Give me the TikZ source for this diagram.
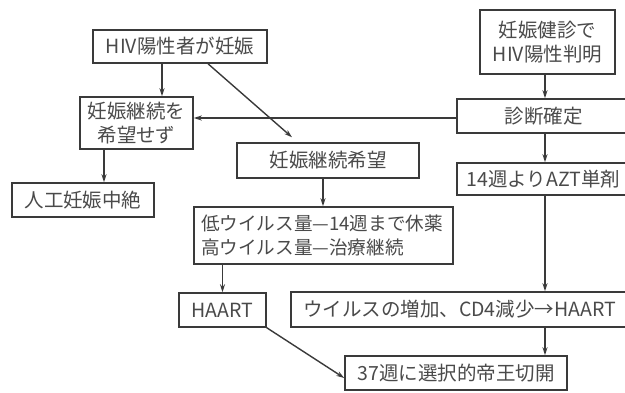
\documentclass[tikz,border=0pt]{standalone}
\usepackage{fontspec}
\newfontfamily\jp{Noto Sans CJK JP}
\usetikzlibrary{arrows.meta}
\definecolor{ink}{HTML}{3A3A3A}
\definecolor{txt}{HTML}{4A4A4A}
\tikzset{
  box/.style={draw=ink, line width=1.5pt, inner sep=0pt, text=txt,
    font=\jp\fontsize{19.5}{24}\selectfont},
  arr/.style={draw=ink, line width=1.4pt, -{Stealth[length=8pt,width=5pt]}},
  ln/.style={draw=ink, line width=1.4pt}
}
\begin{document}
\begin{tikzpicture}[x=1pt,y=-1pt]
\useasboundingbox (0,0) rectangle (625,392);
\clip (0,0) rectangle (625,392);
\fill[white] (0,0) rectangle (625,392);
\node[box, minimum width=174pt, minimum height=33pt] (A) at (180,46.5) {HIV陽性者が妊娠};
\node[box, minimum width=113pt, minimum height=52pt, align=center] (B) at (136.5,123) {妊娠継続を\\希望せず};
\node[box, minimum width=142pt, minimum height=34pt] (C) at (83,200) {人工妊娠中絶};
\node[box, minimum width=182pt, minimum height=35pt] (D) at (328,160.5) {妊娠継続希望};
\node[box, minimum width=135pt, minimum height=64pt, align=center] (E) at (547.5,42) {妊娠健診で\\HIV陽性判明};
\node[box, minimum width=173pt, minimum height=34pt] (F) at (543.5,116) {診断確定};
\node[box, minimum width=173pt, minimum height=32pt] (G) at (543.5,179) {14週よりAZT単剤};
\node[box, minimum width=259pt, minimum height=57pt, text width=245pt, align=left, font=\jp\fontsize{18.6}{24}\selectfont] (H) at (323.5,235.5) {\mbox{低ウイルス量—14週まで休薬}\\\mbox{高ウイルス量—治療継続}};
\node[box, minimum width=87pt, minimum height=34pt] (I) at (222.5,310) {HAART};
\node[box, minimum width=337pt, minimum height=35pt] (J) at (459.5,309.5) {ウイルスの増加、CD4減少→HAART};
\node[box, minimum width=222pt, minimum height=34pt] (K) at (456,373) {37週に選択的帝王切開};
\coordinate (vx) at (545,0);
\coordinate (ab) at (162,0);
\coordinate (bc) at (104,0);
\coordinate (dh) at (323,0);
\draw[arr] (A.south -| ab) -- (B.north -| ab);
\draw[arr] ([xshift=28pt]A.south) -- ([xshift=-36pt,yshift=5pt]D.north);
\draw[arr] ([yshift=-2pt]F.west) -- ([yshift=-2pt]F.west -| B.east);
\draw[arr] (B.south -| bc) -- (C.north -| bc);
\draw[arr] (E.south -| vx) -- (F.north -| vx);
\draw[arr] (F.south -| vx) -- (G.north -| vx);
\draw[arr] (D.south -| dh) -- (H.north -| dh);
\draw[arr] (G.south -| vx) -- (J.north -| vx);
\draw[arr] (H.south -| I.north) -- (I.north);
\draw[arr] (I.south east) -- ([yshift=-5pt]K.west);
\draw[arr] (J.south -| vx) -- (K.north -| vx);
\end{tikzpicture}
\end{document}
